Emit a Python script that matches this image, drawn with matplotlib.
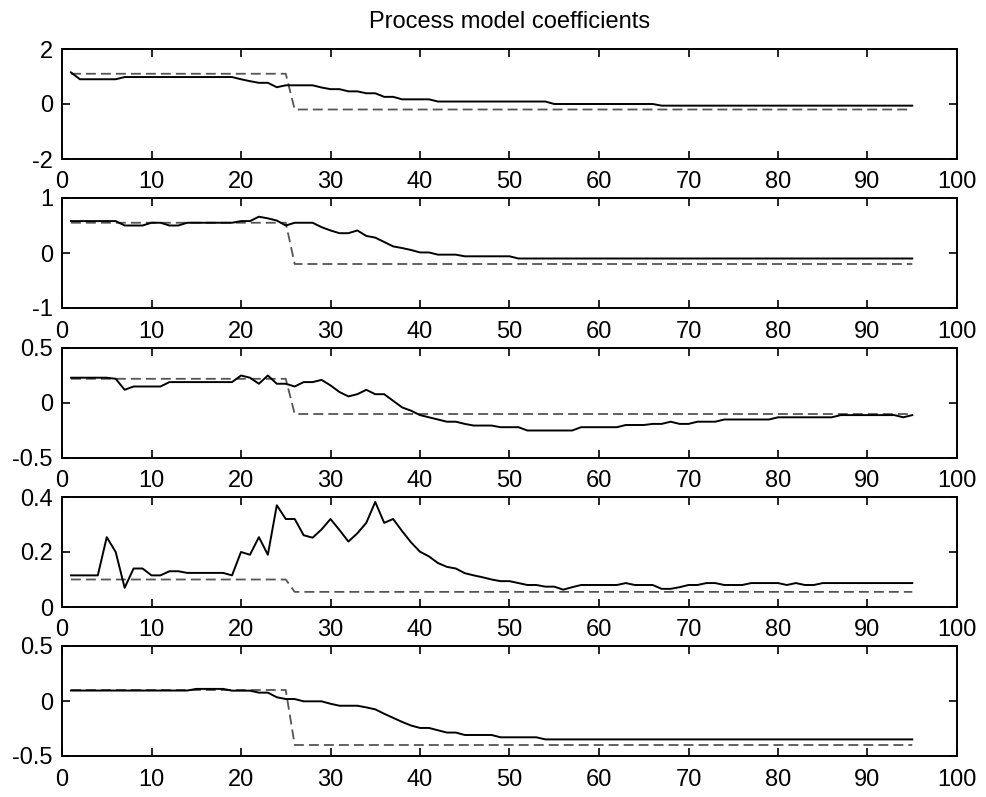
import matplotlib
matplotlib.use("Agg")
import matplotlib.pyplot as plt
import numpy as np

plt.rcParams['font.family'] = ['Liberation Sans', 'DejaVu Sans']
plt.rcParams['axes.unicode_minus'] = False

# sample index
t = np.arange(1, 96)

# estimated coefficients (solid)
est_a1 = ([1.15] + [0.9] * 5 + [0.98] * 13 +
          [0.9, 0.83, 0.77, 0.77, 0.61, 0.68, 0.68, 0.68, 0.68, 0.6, 0.54,
           0.54, 0.46, 0.46, 0.39, 0.39, 0.26, 0.26, 0.17, 0.17, 0.17, 0.17] +
          [0.09] * 13 + [0.0] * 12 + [-0.06] * 29)

est_a2 = ([0.58] * 6 + [0.50] * 3 + [0.55] * 2 + [0.50] * 2 + [0.55] * 6 +
          [0.58] * 2 + [0.66, 0.63, 0.59, 0.50] + [0.55] * 3 +
          [0.47, 0.41, 0.36, 0.36, 0.41, 0.31, 0.28, 0.20, 0.12, 0.09, 0.055,
           0.01, 0.01] +
          [-0.03] * 3 + [-0.06] * 6 + [-0.1] * 45)

est_b1 = ([0.23] * 5 + [0.22, 0.12] + [0.15] * 4 + [0.19] * 8 +
          [0.25, 0.23, 0.175, 0.25, 0.175, 0.175, 0.15] + [0.19] * 2 +
          [0.21, 0.16, 0.10, 0.06, 0.08, 0.12, 0.08, 0.08, 0.02, -0.04, -0.07,
           -0.11, -0.13, -0.15, -0.17, -0.17, -0.19] +
          [-0.205] * 3 + [-0.22] * 3 + [-0.25] * 6 + [-0.22] * 5 + [-0.2] * 3 +
          [-0.19] * 2 + [-0.17] + [-0.19] * 2 + [-0.17] * 3 + [-0.15] * 6 +
          [-0.13] * 7 + [-0.11] * 7 + [-0.13, -0.11])

est_b2 = ([0.115] * 4 +
          [0.254, 0.20, 0.07, 0.14, 0.14, 0.115, 0.115, 0.13, 0.13] +
          [0.124] * 5 +
          [0.115, 0.20, 0.19, 0.254, 0.19, 0.37, 0.32, 0.32, 0.261, 0.252,
           0.282, 0.32, 0.28, 0.238, 0.268, 0.306, 0.382, 0.306, 0.32, 0.276,
           0.235, 0.201, 0.184, 0.16, 0.146, 0.14, 0.123, 0.115, 0.108, 0.1,
           0.094, 0.094, 0.087] +
          [0.08] * 2 + [0.074] * 2 + [0.063, 0.072] + [0.08] * 5 + [0.087] +
          [0.08] * 3 + [0.066] * 2 + [0.072] + [0.08] * 2 + [0.087] * 2 +
          [0.08] * 3 + [0.087] * 4 + [0.08, 0.087, 0.08, 0.08] + [0.087] * 11)

est_b3 = ([0.095] * 14 + [0.11] * 4 + [0.094] * 3 + [0.076] * 2 + [0.034] +
          [0.018] * 2 + [-0.003] * 3 + [-0.025] + [-0.043] * 3 +
          [-0.058, -0.076, -0.116, -0.153, -0.19, -0.223] +
          [-0.245] * 2 + [-0.266] + [-0.287] * 2 + [-0.309] * 4 +
          [-0.33] * 5 + [-0.349] * 42)

estimates = [est_a1, est_a2, est_b1, est_b2, est_b3]

# true coefficients (dashed): value before and after the change point
true_before = [1.1, 0.55, 0.22, 0.1, 0.1]
true_after = [-0.2, -0.2, -0.1, 0.055, -0.4]
change_at = 26

# axis settings per panel
ylims = [(-2, 2), (-1, 1), (-0.5, 0.5), (0, 0.4), (-0.5, 0.5)]
yticks = [[-2, 0, 2], [-1, 0, 1], [-0.5, 0, 0.5], [0, 0.2, 0.4], [-0.5, 0, 0.5]]
yticklabels = [["-2", "0", "2"], ["-1", "0", "1"], ["-0.5", "0", "0.5"],
               ["0", "0.2", "0.4"], ["-0.5", "0", "0.5"]]
xticks = list(range(0, 101, 10))

W, H = 987, 797
fig = plt.figure(figsize=(W / 100, H / 100), dpi=100)

left_px, right_px = 62, 957
tops_px = [49, 198, 348, 497, 646]
height_px = 110

for i in range(5):
    ax = fig.add_axes([left_px / W, 1 - (tops_px[i] + height_px) / H,
                       (right_px - left_px) / W, height_px / H])
    true_vals = [true_before[i] if k < change_at else true_after[i] for k in t]
    ax.plot(t, true_vals, color='#555555', lw=1.3, linestyle=(0, (5.5, 2.8)))
    ax.plot(t, estimates[i], color='black', lw=1.4)
    ax.set_xlim(0, 100)
    ax.set_ylim(*ylims[i])
    ax.set_xticks(xticks)
    ax.set_xticklabels([str(v) for v in xticks])
    ax.set_yticks(yticks[i])
    ax.set_yticklabels(yticklabels[i])
    ax.tick_params(direction='in', top=True, right=True, length=6, width=1.2,
                   labelsize=17, colors='black')
    ax.tick_params(axis='x', pad=9)
    ax.tick_params(axis='y', pad=6.5)
    for s in ax.spines.values():
        s.set_linewidth(1.4)
    if i == 0:
        ax.set_title("Process model coefficients", fontsize=17, pad=15)

fig.savefig("out.png", dpi=100)
